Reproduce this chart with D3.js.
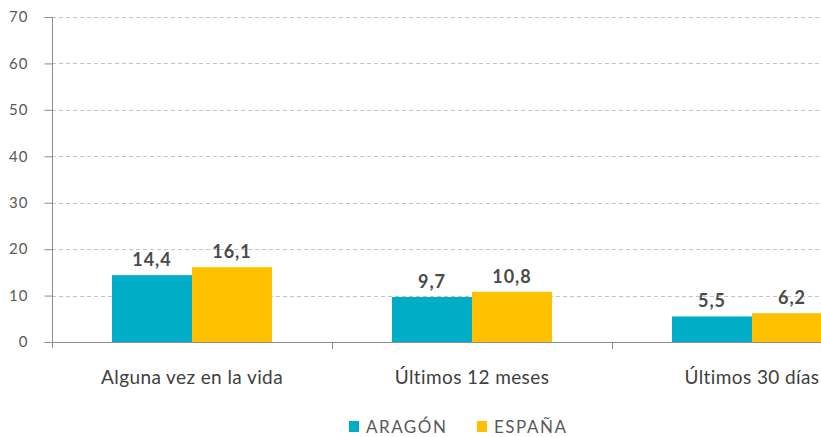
<!DOCTYPE html>
<html>
  <head>
    <meta charset="UTF-8">
    <script src="https://cdn.jsdelivr.net/npm/d3@7/dist/d3.min.js"></script>
    <style>
      body { margin: 0; background: #fff; }
      text { font-family: Lato, "Open Sans", sans-serif; }
    </style>
  </head>
  <body>
    <svg width="821" height="437"></svg>

    <script type="text/javascript">
      // Chart data
      var categories = ['Alguna vez en la vida', 'Últimos 12 meses', 'Últimos 30 días'];
      var series = ['ARAGÓN', 'ESPAÑA'];
      var aragon = [14.4, 9.7, 5.5];
      var espana = [16.1, 10.8, 6.2];
      var yTicks = [0, 10, 20, 30, 40, 50, 60, 70];
      var colors = ['#00adc6', '#ffc000'];

      var svg = d3.select('svg');
      var plotLeft = 52, plotTop = 17, plotBottom = 342;
      // the third band runs off the right edge, as in the source image
      var bandW = 280;

      var x = d3.scaleBand()
        .domain(categories)
        .range([plotLeft, plotLeft + bandW * categories.length])
        .paddingInner(0)
        .paddingOuter(0);
      var xs = d3.scaleBand()
        .domain(series)
        .range([60, bandW - 60]);
      var y = d3.scaleLinear().domain([0, 70]).range([plotBottom, plotTop]);

      // gridlines
      svg.append('g')
        .selectAll('line')
        .data(yTicks.filter(function(d) { return d > 0; }))
        .enter().append('line')
        .attr('x1', plotLeft).attr('x2', 821)
        .attr('y1', function(d) { return Math.round(y(d)) + 0.5; })
        .attr('y2', function(d) { return Math.round(y(d)) + 0.5; })
        .attr('stroke', '#c4c4c4')
        .attr('stroke-dasharray', '4,3');

      // bars
      var values = [aragon, espana];
      var groups = svg.append('g').selectAll('g')
        .data(series)
        .enter().append('g')
        .attr('fill', function(d, i) { return colors[i]; });

      function rows(s, i) {
        return values[i].map(function(v, j) { return {s: s, c: categories[j], v: v}; });
      }

      groups.selectAll('rect')
        .data(rows)
        .enter().append('rect')
        .attr('x', function(d) { return x(d.c) + xs(d.s); })
        .attr('width', xs.bandwidth())
        .attr('y', function(d) { return y(d.v); })
        .attr('height', function(d) { return plotBottom - y(d.v); });

      groups.selectAll('text')
        .data(rows)
        .enter().append('text')
        .attr('x', function(d) { return x(d.c) + xs(d.s) + xs.bandwidth() / 2; })
        .attr('y', function(d) { return y(d.v) - 9; })
        .attr('text-anchor', 'middle')
        .attr('fill', '#4a4a4a')
        .attr('font-size', 18)
        .attr('font-weight', 'bold')
        .attr('letter-spacing', 1)
        .text(function(d) { return d3.format('.1f')(d.v).replace('.', ','); });

      // y axis
      var yAxis = svg.append('g')
        .attr('transform', 'translate(' + (plotLeft + 0.5) + ',0)')
        .call(d3.axisLeft(y).tickValues(yTicks).tickSize(8).tickPadding(16).tickFormat(d3.format('d')));
      yAxis.select('.domain').attr('stroke', '#8c8c8c').attr('d', 'M0,' + plotTop + 'V' + (plotBottom + 6));
      yAxis.selectAll('.tick line').attr('stroke', '#8c8c8c');
      yAxis.selectAll('.tick text')
        .attr('fill', '#595959')
        .attr('font-size', 15)
        .attr('letter-spacing', 1)
        .style('font-family', 'Lato, sans-serif');

      // x axis
      var xAxis = svg.append('g')
        .attr('transform', 'translate(0,' + (plotBottom + 0.5) + ')')
        .call(d3.axisBottom(x).tickSize(0).tickPadding(28));
      xAxis.select('.domain').attr('stroke', '#8c8c8c').attr('d', 'M' + plotLeft + ',0H821');
      xAxis.selectAll('.tick text')
        .attr('fill', '#404040')
        .attr('font-size', 19)
        .attr('letter-spacing', 0.4)
        .style('font-family', 'Lato, sans-serif');
      svg.append('g').selectAll('line')
        .data(categories.slice(1))
        .enter().append('line')
        .attr('x1', function(d) { return Math.round(x(d)) + 0.5; })
        .attr('x2', function(d) { return Math.round(x(d)) + 0.5; })
        .attr('y1', plotBottom).attr('y2', plotBottom + 7)
        .attr('stroke', '#8c8c8c');

      // legend
      var legendX = [349, 477];
      var legend = svg.append('g').selectAll('g')
        .data(series)
        .enter().append('g')
        .attr('transform', function(d, i) { return 'translate(' + legendX[i] + ',421)'; });
      legend.append('rect')
        .attr('width', 10).attr('height', 11)
        .attr('fill', function(d, i) { return colors[i]; });
      legend.append('text')
        .attr('x', 17).attr('y', 12)
        .attr('fill', '#595959')
        .attr('font-size', 17)
        .attr('letter-spacing', 1.5)
        .text(function(d) { return d; });
    </script>
  </body>
</html>
